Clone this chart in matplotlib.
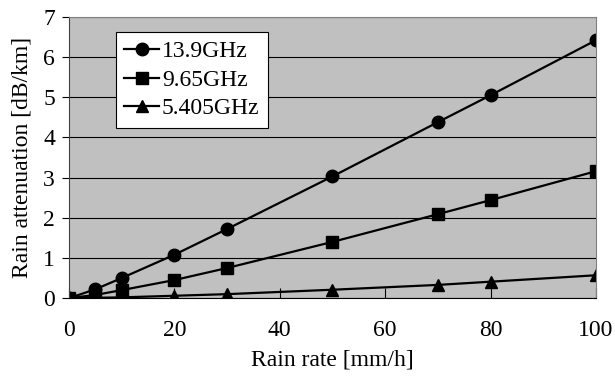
import matplotlib
matplotlib.use("Agg")
from matplotlib import pyplot as plt

plt.rcParams['font.family'] = ['Liberation Serif', 'DejaVu Serif']

rain = [0, 5, 10, 20, 30, 50, 70, 80, 100]
att_139 = [0.0, 0.22, 0.5, 1.08, 1.72, 3.03, 4.38, 5.05, 6.42]
att_965 = [0.0, 0.08, 0.2, 0.45, 0.75, 1.4, 2.09, 2.44, 3.16]
att_5405 = [0.0, 0.01, 0.02, 0.06, 0.1, 0.21, 0.33, 0.41, 0.57]
labels = ["13.9GHz", "9.65GHz", "5.405GHz"]

fig = plt.figure(figsize=(6.15, 3.76), dpi=100)
ax = fig.add_axes([0.112, 0.207, 0.857, 0.748])
ax.set_facecolor("#c0c0c0")

ax.plot(rain, att_139, "k-", marker="o", ms=9, lw=1.6, label=labels[0])
ax.plot(rain, att_965, "k-", marker="s", ms=8, lw=1.6, label=labels[1])
ax.plot(rain, att_5405, "k-", marker="^", ms=9, lw=1.6, label=labels[2])

ax.set_xlim(0, 100)
ax.set_ylim(0, 7)
ax.set_xticks(range(0, 101, 20))
ax.set_yticks(range(0, 8))
ax.yaxis.grid(True, color="black", lw=0.8)
ax.set_axisbelow(True)
for s in ["top", "right"]:
    ax.spines[s].set_color("#808080")
ax.spines["left"].set_color("#404040")
ax.spines["bottom"].set_color("black")
ax.tick_params(axis="x", direction="in", length=7, labelsize=17, pad=16)
ax.tick_params(axis="y", direction="out", length=5, labelsize=17, pad=5)
ax.set_xlabel("Rain rate [mm/h]", fontsize=17, labelpad=6)
ax.set_ylabel("Rain attenuation [dB/km]", fontsize=17, labelpad=8)

leg = ax.legend(loc="upper left", bbox_to_anchor=(0.089, 0.945), fontsize=17,
                frameon=True, fancybox=False, framealpha=1, edgecolor="black",
                handlelength=1.5, handletextpad=0.1, labelspacing=0.3,
                borderpad=0.35, borderaxespad=0)
leg.get_frame().set_linewidth(0.8)

fig.savefig("out.png", dpi=100)
